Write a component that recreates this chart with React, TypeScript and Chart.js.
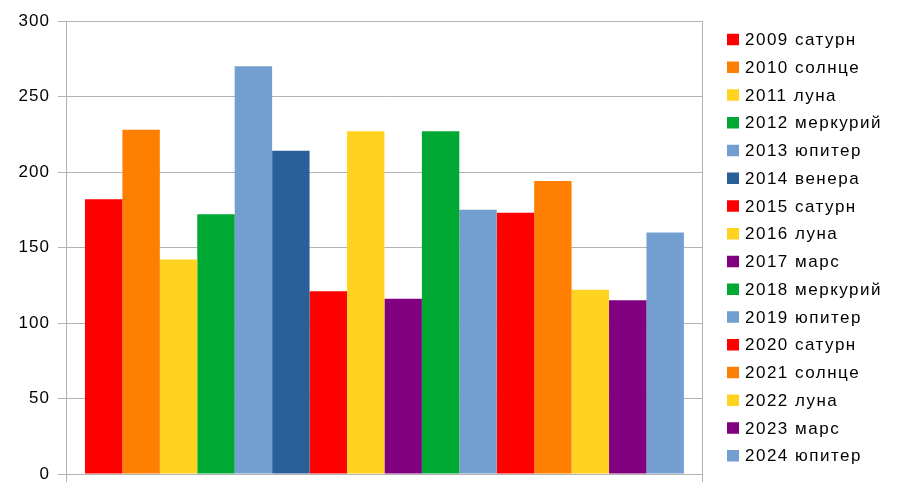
import React, { useEffect, useRef } from "react";
import { Chart, registerables } from "chart.js";

Chart.register(...registerables);

const categories = [""];
const seriesNames = [
  "2009 сатурн", "2010 солнце", "2011 луна", "2012 меркурий",
  "2013 юпитер", "2014 венера", "2015 сатурн", "2016 луна",
  "2017 марс", "2018 меркурий", "2019 юпитер", "2020 сатурн",
  "2021 солнце", "2022 луна", "2023 марс", "2024 юпитер",
];
const seriesValues = [182, 228, 142, 172, 270, 214, 121, 227, 116, 227, 175, 173, 194, 122, 115, 160];
const seriesColors = [
  "#ff0000", "#ff8000", "#ffd320", "#00a933",
  "#729fcf", "#2a6099", "#ff0000", "#ffd320",
  "#800080", "#00a933", "#729fcf", "#ff0000",
  "#ff8000", "#ffd320", "#800080", "#729fcf",
];
const yTicks = [0, 50, 100, 150, 200, 250, 300];

const FONT = "'Liberation Sans', Arial, sans-serif";

const spacingPlugin = {
  id: "spacing",
  beforeUpdate(chart: any) { chart.ctx.letterSpacing = "1px"; },
  beforeDraw(chart: any) { chart.ctx.letterSpacing = "1px"; },
};

const legendPlugin = {
  id: "customLegend",
  afterDraw(chart: any) {
    const ctx = chart.ctx;
    ctx.save();
    ctx.letterSpacing = "1.5px";
    ctx.font = `17px ${FONT}`;
    ctx.textBaseline = "middle";
    ctx.textAlign = "left";
    const boxX = 727;
    const textX = 745;
    const y0 = 39.5;
    const step = 27.75;
    chart.data.datasets.forEach((ds: any, i: number) => {
      const cy = y0 + i * step;
      ctx.fillStyle = ds.backgroundColor;
      ctx.fillRect(boxX, cy - 5.75, 12, 11.5);
      ctx.fillStyle = "#000000";
      ctx.fillText(ds.label, textX, cy + 1);
    });
    ctx.restore();
  },
};

export default function App() {
  const ref = useRef<HTMLCanvasElement | null>(null);
  useEffect(() => {
    if (!ref.current) return;
    const chart = new Chart(ref.current, {
      type: "bar",
      data: {
        labels: categories,
        datasets: seriesNames.map((name, i) => ({
          label: name,
          data: [seriesValues[i]],
          backgroundColor: seriesColors[i],
          borderWidth: 0,
          categoryPercentage: 0.943,
          barPercentage: 1,
        })),
      },
      options: {
        animation: false,
        responsive: false,
        maintainAspectRatio: false,
        layout: { padding: { left: 10.5, right: 201, top: 21, bottom: 14 } },
        plugins: {
          legend: { display: false },
          tooltip: { enabled: false },
        },
        scales: {
          x: {
            grid: { color: "#b3b3b3", lineWidth: 1, offset: true, tickLength: 8, drawTicks: true },
            border: { color: "#b3b3b3" },
            ticks: { display: false },
          },
          y: {
            min: 0,
            max: 300,
            afterBuildTicks: (scale: any) => { scale.ticks = yTicks.map((v) => ({ value: v })); },
            grid: { color: "#b3b3b3", lineWidth: 1, tickLength: 9 },
            border: { color: "#b3b3b3" },
            ticks: { color: "#000000", padding: 8, font: { family: FONT, size: 17 } },
          },
        },
      },
      plugins: [spacingPlugin, legendPlugin],
    });
    return () => chart.destroy();
  }, []);
  return (
    <div style={{ position: "absolute", left: 0, top: 0, width: 903, height: 496, background: "#fff" }}>
      <canvas ref={ref} width={903} height={496} style={{ display: "block", width: 903, height: 496 }} />
    </div>
  );
}
